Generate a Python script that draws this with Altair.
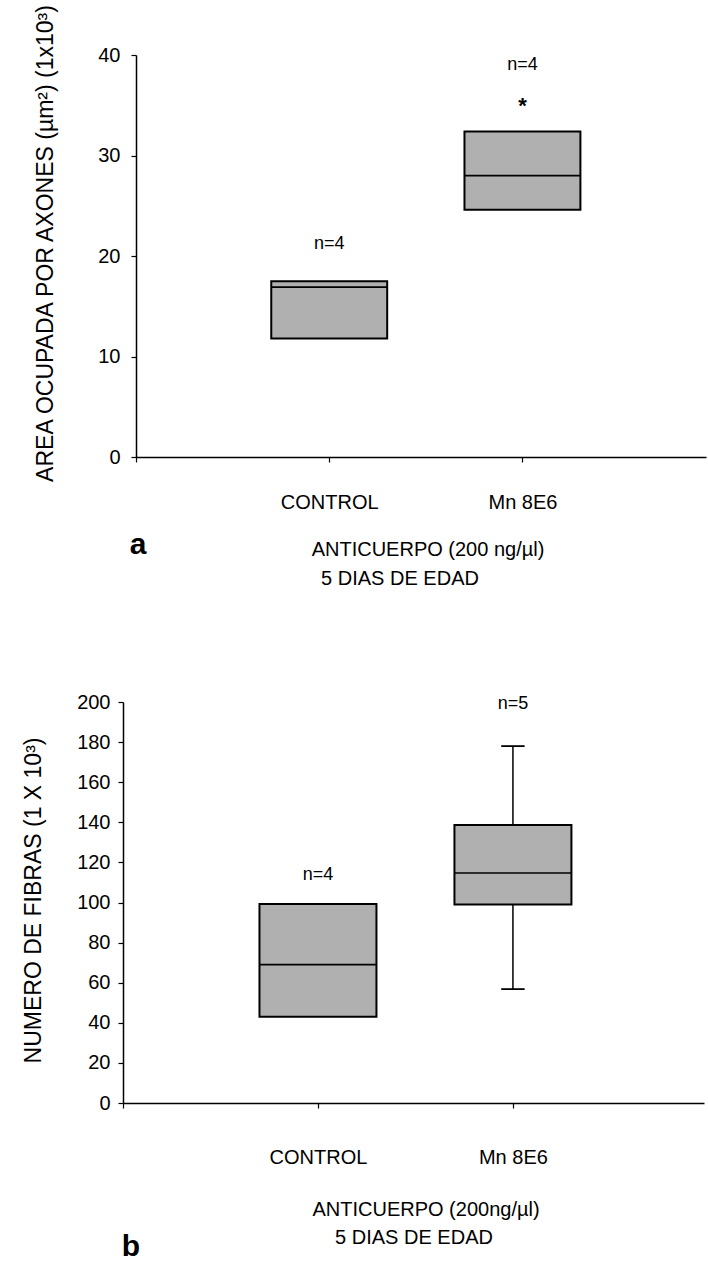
import altair as alt
import pandas as pd

# ---------------- data ----------------
groups = ["CONTROL", "Mn 8E6"]
group_pos = [1, 2]

# panel a: AREA OCUPADA POR AXONES
a_q1 = [11.8, 24.6]
a_median = [16.9, 28.0]
a_q3 = [17.5, 32.4]
a_n_text = ["n=4", "n=4"]
a_n_y = [21.2, 39.0]
a_star_text = ["*"]
a_star_pos = [2]
a_star_y = [35.4]

# panel b: NUMERO DE FIBRAS
b_q1 = [43.0, 99.0]
b_median = [69.0, 114.7]
b_q3 = [99.2, 138.6]
b_min = [None, 56.8]
b_max = [None, 178.0]
b_n_text = ["n=4", "n=5"]
b_n_y = [113.5, 199.0]

a_title = "AREA OCUPADA POR AXONES (µm²) (1x10³)"
b_title = "NUMERO DE FIBRAS (1 X 10³)"
a_sub = ["ANTICUERPO (200 ng/µl)", "5 DIAS DE EDAD"]
b_sub = ["ANTICUERPO (200ng/µl)", "5 DIAS DE EDAD"]
letters = ["a", "b"]

FONT = "Liberation Sans"
FILL = "#b0b0b0"
W, H = 570, 1048

label_expr = "datum.value == 1 ? 'CONTROL' : datum.value == 2 ? 'Mn 8E6' : ''"


def x_axis(offset, pad):
    return alt.Axis(values=[0, 1, 2], title=None, grid=False, orient="bottom",
                    offset=offset, labelExpr=label_expr, labelFont=FONT,
                    labelFontSize=20, labelColor="black", labelPadding=pad,
                    tickSize=5, tickColor="black", tickWidth=1.2,
                    domainColor="black", domainWidth=1.5, labelFlush=False,
                    labelOverlap=False)


def y_axis(values, title, offset, tx, ty, pad):
    return alt.Axis(values=values, title=title, grid=False, orient="left",
                    offset=offset, labelFont=FONT, labelFontSize=20,
                    labelColor="black", labelPadding=pad, tickSize=5,
                    tickColor="black", tickWidth=1.2, domainColor="black",
                    domainWidth=1.5, titleFont=FONT, titleFontSize=23,
                    titleFontWeight="normal", titleColor="black",
                    titleX=tx, titleY=ty, titleBaseline="middle",
                    titleAngle=270, labelFlush=False)


def panel(df, xs, ys, xax, yax, star_df=None):
    base = alt.Chart(df).transform_calculate(
        lo="datum.pos - 0.3", hi="datum.pos + 0.3",
        clo="datum.pos - 0.06", chi="datum.pos + 0.06")
    box = base.mark_rect(fill=FILL, stroke="black", strokeWidth=2).encode(
        x=alt.X("lo:Q", scale=xs, axis=xax), x2="hi:Q",
        y=alt.Y("q1:Q", scale=ys, axis=yax), y2="q3:Q")
    med = base.mark_rule(color="black", strokeWidth=1.6).encode(
        x=alt.X("lo:Q", scale=xs), x2="hi:Q",
        y=alt.Y("median:Q", scale=ys))
    layers = [box, med]
    if df["vmax"].notna().any():
        wdf = base.transform_filter("isValid(datum.vmax)")
        layers += [
            wdf.mark_rule(color="black", strokeWidth=1.5).encode(
                x=alt.X("pos:Q", scale=xs),
                y=alt.Y("q3:Q", scale=ys), y2="vmax:Q"),
            wdf.mark_rule(color="black", strokeWidth=1.5).encode(
                x=alt.X("pos:Q", scale=xs),
                y=alt.Y("vmin:Q", scale=ys), y2="q1:Q"),
            wdf.mark_rule(color="black", strokeWidth=1.8).encode(
                x=alt.X("clo:Q", scale=xs), x2="chi:Q",
                y=alt.Y("vmax:Q", scale=ys)),
            wdf.mark_rule(color="black", strokeWidth=1.8).encode(
                x=alt.X("clo:Q", scale=xs), x2="chi:Q",
                y=alt.Y("vmin:Q", scale=ys)),
        ]
    layers.append(base.mark_text(font=FONT, fontSize=18, color="black",
                                 baseline="middle").encode(
        x=alt.X("pos:Q", scale=xs),
        y=alt.Y("ny:Q", scale=ys), text="ntext:N"))
    if star_df is not None:
        layers.append(alt.Chart(star_df).mark_text(
            font=FONT, fontSize=22, fontWeight="bold", color="black",
            baseline="middle", dy=5).encode(
            x=alt.X("pos:Q", scale=xs),
            y=alt.Y("sy:Q", scale=ys), text="t:N"))
    return alt.layer(*layers)


def note(text, x, y, size=20, weight="normal"):
    return alt.Chart(pd.DataFrame({"t": [text]})).mark_text(
        font=FONT, fontSize=size, fontWeight=weight, color="black",
        baseline="middle", align="center").encode(
        x=alt.value(x), y=alt.value(y), text="t:N")


df_a = pd.DataFrame({"g": groups, "pos": group_pos, "q1": a_q1,
                     "median": a_median, "q3": a_q3,
                     "vmin": [None, None], "vmax": [None, None],
                     "ntext": a_n_text, "ny": a_n_y})
star_a = pd.DataFrame({"t": a_star_text, "pos": a_star_pos, "sy": a_star_y})
df_b = pd.DataFrame({"g": groups, "pos": group_pos, "q1": b_q1,
                     "median": b_median, "q3": b_q3,
                     "vmin": b_min, "vmax": b_max,
                     "ntext": b_n_text, "ny": b_n_y})

xs_a = alt.Scale(domain=[0, 2.95], range=[0, 570], nice=False, zero=False)
ys_a = alt.Scale(domain=[0, 40], range=[402, 0], nice=False)
xs_b = alt.Scale(domain=[0, 2.98], range=[-13, 568], nice=False, zero=False)
ys_b = alt.Scale(domain=[0, 200], range=[H, 647], nice=False)

pa = panel(df_a, xs_a, ys_a, x_axis(402 - H, 30),
           y_axis([0, 10, 20, 30, 40], a_title, 0, -91, 188, 11), star_a)
pb = panel(df_b, xs_b, ys_b, x_axis(0, 39),
           y_axis(list(range(0, 201, 20)), b_title, 13, -90, 845, 8))

notes = [
    note(letters[0], 2, 490, 30, "bold"),
    note(a_sub[0], 292, 495),
    note(a_sub[1], 264, 524),
    note(letters[1], -5, 1192, 30, "bold"),
    note(b_sub[0], 290, 1155),
    note(b_sub[1], 278, 1183),
]

chart = alt.layer(pa, pb, *notes).resolve_scale(
    x="independent", y="independent"
).properties(
    width=W, height=H,
    background="white",
    autosize=alt.AutoSizeParams(type="none"),
    padding={"left": 136, "top": 55, "right": 2, "bottom": 167},
).configure_view(stroke="transparent", strokeWidth=0)

chart.save("out.html", embed_options={"renderer": "svg", "actions": False})
